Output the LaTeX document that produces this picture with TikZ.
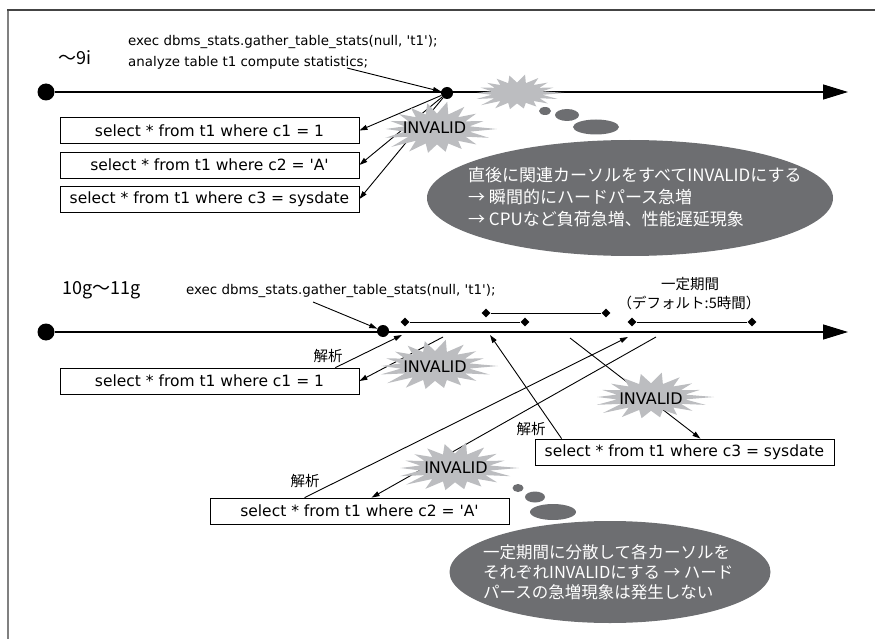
\documentclass[tikz,border=0pt]{standalone}
\usepackage{fontspec}
\setmainfont{DejaVu Sans}[Ligatures=TeXOff]
\newfontfamily\jp{Noto Sans CJK JP}
\usetikzlibrary{arrows.meta,shapes.geometric}
\definecolor{burstgray}{HTML}{BCBDC0}
\definecolor{bubblegray}{HTML}{6D6E71}
\definecolor{framegray}{HTML}{444444}
\definecolor{framelight}{HTML}{808080}
\newcommand\fsz[2]{\fontsize{#1}{#2}\selectfont}
% starburst: cx, cy, rx, ry
\newcommand\starb[4]{%
  \fill[burstgray] ({#1+#3},{#2}) \foreach \i in {1,...,35}{
    -- ({#1+((mod(\i,2)==0) ? (1-0.18*abs(sin(\i*77))) : 0.55)*#3*cos(\i*10)},
        {#2+((mod(\i,2)==0) ? (1-0.18*abs(sin(\i*77))) : 0.55)*#4*sin(\i*10)})
  } -- cycle;}
\tikzset{
  tl/.style={line width=1.3pt,-{Triangle[length=25pt,width=15pt]}},
  arr/.style={line width=0.9pt,-{Triangle[length=8pt,width=5pt]}},
  plainline/.style={line width=0.9pt},
  bigdot/.style={circle,fill=black,minimum size=17pt,inner sep=0pt},
  smalldot/.style={circle,fill=black,minimum size=12pt,inner sep=0pt},
  dia/.style={diamond,fill=black,minimum size=9pt,inner sep=0pt},
  sqlbox/.style={draw,line width=0.8pt,fill=white,minimum width=299pt,minimum height=26pt,inner sep=0pt,font=\fsz{15.5}{18}},
  code/.style={font=\fsz{13.4}{21},inner sep=0pt,anchor=west,align=left},
  inv/.style={font=\fsz{16}{18},inner sep=0pt},
  lbl/.style={font=\jp\fsz{14.5}{17},inner sep=0pt},
  bubble/.style={fill=bubblegray},
  btext/.style={text=white,inner sep=0pt,anchor=west,align=left},
}
\begin{document}
\begin{tikzpicture}[x=1pt,y=-1pt]
\useasboundingbox (0,0) rectangle (875,639);
% frame
\draw[framelight,line width=2pt] (8,639) -- (8,10);
\draw[framegray,line width=1.3pt] (7,10) -- (875,10);

% ===== top section =====
\node[font=\jp\fsz{18}{20},inner sep=0pt,anchor=west] (v9) at (58,58) {～9i};
\node[code] (exec1) at (128,52) {exec dbms\_stats.gather\_table\_stats(null, 't1');\\analyze table t1 compute statistics;};
\node[bigdot] (L1) at (46,92) {};
\coordinate (E1) at (848,92);
\draw[tl] (L1) -- (E1);
\node[smalldot] (d1) at (447,93) {};
\coordinate (x1) at (347,68);
\draw[arr] (x1) -- (d1);

\node[sqlbox] (b1) at (209.5,130.5) {select * from t1 where c1 = 1};
\node[sqlbox] (b2) at (209.5,165) {select * from t1 where c2 = 'A'};
\node[sqlbox] (b3) at (209.5,199) {select * from t1 where c3 = sysdate};
\draw[arr] (d1) -- (b1.east);
\draw[arr] (d1) -- (b2.east);
\draw[arr] (d1) -- (b3.east);

\starb{437}{129}{60}{28}
\node[inv] (inv1) at (434.5,128) {INVALID};
\starb{517}{93}{47}{19}

\fill[bubble] (545,111) ellipse (6 and 4);
\fill[bubble] (567,115) ellipse (12 and 6);
\fill[bubble] (596,127) ellipse (23 and 7.5);
\node[bubble,ellipse,minimum width=406pt,minimum height=116pt,inner sep=0pt] (e1) at (630,198) {};
\node[btext,font=\jp\fsz{17}{22}] (t1) at (468,197) {直後に関連カーソルをすべてINVALIDにする\\→ 瞬間的にハードパース急増\\→ CPUなど負荷急増、性能遅延現象};

% ===== bottom section =====
\node[font=\jp\fsz{18}{20},inner sep=0pt,anchor=west] (v10) at (62,290) {10g～11g};
\node[code] (exec2) at (186,291) {exec dbms\_stats.gather\_table\_stats(null, 't1');};
\node[lbl] (per1) at (690,284) {一定期間};
\node[lbl] (per2) at (689,303) {（デフォルト:5時間）};

\node[bigdot] (L2) at (46,332) {};
\coordinate (E2) at (848,332);
\draw[tl] (L2) -- (E2);
\node[smalldot] (d2) at (383,331) {};
\coordinate (x2) at (313,302);
\draw[arr] (x2) -- (d2);

% intervals
\node[dia] (p1) at (405,322) {};
\node[dia] (p2) at (525,322) {};
\node[dia] (q1) at (486,313) {};
\node[dia] (q2) at (606,313) {};
\node[dia] (r1) at (632,322) {};
\node[dia] (r2) at (752,322) {};
\draw[plainline] (p1) -- (p2);
\draw[plainline] (q1) -- (q2);
\draw[plainline] (r1) -- (r2);

\node[sqlbox] (bc1) at (209.5,381) {select * from t1 where c1 = 1};
\node[sqlbox] (bc3) at (684.5,452) {select * from t1 where c3 = sysdate};
\node[sqlbox] (bc2) at (359.5,511) {select * from t1 where c2 = 'A'};

\coordinate (a1) at (402,335);
\coordinate (i1) at (443,337);
\coordinate (a3) at (490,335);
\coordinate (i3) at (570,338);
\coordinate (a2) at (628,337);
\coordinate (i2) at (656,337);

\draw[arr] ([xshift=-24pt]bc1.north east) -- (a1);
\draw[arr] (i1) -- (bc1.east);
\draw[arr] ([xshift=27pt]bc3.north west) -- (a3);
\draw[arr] (i3) -- ([xshift=-134pt]bc3.north east);
\draw[arr] ([xshift=95pt]bc2.north west) -- (a2);
\draw[arr] (i2) -- ([xshift=162pt]bc2.north west);

\node[lbl] (k1) at (328,356) {解析};
\node[lbl] (k3) at (531,429) {解析};
\node[lbl] (k2) at (305,481) {解析};

\starb{435}{366}{63}{27}
\node[inv] (inv2) at (435,367) {INVALID};
\starb{651}{397}{63}{25}
\node[inv] (inv3) at (651,399) {INVALID};
\starb{455}{468}{64}{26}
\node[inv] (inv4) at (456,468) {INVALID};

\fill[bubble] (518,488) ellipse (5.5 and 4);
\fill[bubble] (535,497) ellipse (10 and 5.5);
\fill[bubble] (553,512) ellipse (23 and 8);
\node[bubble,ellipse,minimum width=321pt,minimum height=102pt,inner sep=0pt] (e2) at (610,572) {};
\node[btext,font=\jp\fsz{16.5}{20}] (t2) at (483,572) {一定期間に分散して各カーソルを\\それぞれINVALIDにする → ハード\\パースの急増現象は発生しない};
\end{tikzpicture}
\end{document}
